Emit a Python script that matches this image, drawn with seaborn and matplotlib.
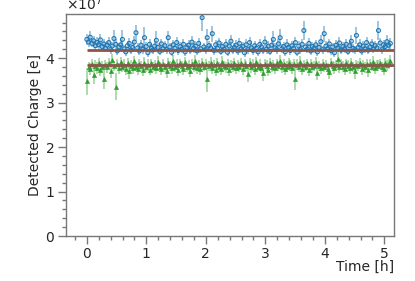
import numpy as np
import pandas as pd
import matplotlib
matplotlib.use("Agg")
import matplotlib.pyplot as plt
import matplotlib.ticker as mticker
import seaborn as sns

# detected charge in units of 1e7 e, one point every t_step hours
t_step = 0.0285
blue = [
    4.42, 4.36, 4.47, 4.33, 4.39, 4.28, 4.35, 4.30, 4.41, 4.26,
    4.32, 4.22, 4.29, 4.35, 4.19, 4.27, 4.44, 4.31, 4.16, 4.25,
    4.30, 4.42, 4.21, 4.14, 4.28, 4.33, 4.18, 4.24, 4.36, 4.57,
    4.23, 4.16, 4.29, 4.20, 4.46, 4.26, 4.12, 4.31, 4.22, 4.18,
    4.27, 4.40, 4.24, 4.15, 4.32, 4.21, 4.28, 4.19, 4.46, 4.25,
    4.13, 4.30, 4.22, 4.35, 4.17, 4.26, 4.20, 4.31, 4.14, 4.24,
    4.29, 4.18, 4.36, 4.22, 4.27, 4.16, 4.33, 4.21, 4.91, 4.25,
    4.19, 4.46, 4.28, 4.23, 4.55, 4.17, 4.30, 4.22, 4.34, 4.15,
    4.26, 4.20, 4.31, 4.13, 4.27, 4.38, 4.18, 4.24, 4.29, 4.16,
    4.33, 4.21, 4.26, 4.12, 4.30, 4.19, 4.35, 4.23, 4.17, 4.28,
    4.22, 4.14, 4.31, 4.25, 4.18, 4.36, 4.20, 4.27, 4.15, 4.29,
    4.42, 4.23, 4.19, 4.32, 4.46, 4.21, 4.26, 4.14, 4.30, 4.24,
    4.17, 4.28, 4.22, 4.35, 4.13, 4.27, 4.19, 4.31, 4.62, 4.25,
    4.20, 4.33, 4.16, 4.26, 4.22, 4.30, 4.14, 4.24, 4.37, 4.19,
    4.55, 4.27, 4.21, 4.32, 4.17, 4.25, 4.12, 4.29, 4.23, 4.34,
    4.18, 4.26, 4.21, 4.31, 4.15, 4.28, 4.38, 4.22, 4.19, 4.51,
    4.24, 4.30, 4.16, 4.27, 4.21, 4.35, 4.18, 4.25, 4.32, 4.20,
    4.28, 4.23, 4.62, 4.34, 4.19, 4.30, 4.26, 4.37, 4.29, 4.33,
]
blue_err = [
    0.12, 0.10, 0.14, 0.09, 0.11, 0.10, 0.12, 0.09, 0.13, 0.10,
    0.11, 0.09, 0.10, 0.12, 0.09, 0.10, 0.20, 0.11, 0.09, 0.10,
    0.11, 0.22, 0.09, 0.10, 0.11, 0.12, 0.09, 0.10, 0.13, 0.18,
    0.10, 0.09, 0.11, 0.10, 0.25, 0.10, 0.09, 0.12, 0.10, 0.09,
    0.11, 0.20, 0.10, 0.09, 0.12, 0.10, 0.11, 0.09, 0.16, 0.10,
    0.09, 0.11, 0.10, 0.13, 0.09, 0.10, 0.09, 0.11, 0.09, 0.10,
    0.12, 0.09, 0.14, 0.10, 0.11, 0.09, 0.12, 0.10, 0.30, 0.10,
    0.09, 0.20, 0.11, 0.10, 0.18, 0.09, 0.11, 0.10, 0.12, 0.09,
    0.10, 0.09, 0.11, 0.09, 0.10, 0.14, 0.09, 0.10, 0.11, 0.09,
    0.12, 0.10, 0.11, 0.09, 0.12, 0.09, 0.13, 0.10, 0.09, 0.11,
    0.10, 0.09, 0.12, 0.10, 0.09, 0.14, 0.10, 0.11, 0.09, 0.12,
    0.18, 0.10, 0.09, 0.12, 0.20, 0.10, 0.11, 0.09, 0.12, 0.10,
    0.09, 0.11, 0.10, 0.13, 0.09, 0.11, 0.09, 0.12, 0.22, 0.10,
    0.09, 0.12, 0.09, 0.10, 0.10, 0.11, 0.09, 0.10, 0.14, 0.09,
    0.18, 0.11, 0.10, 0.12, 0.09, 0.10, 0.09, 0.11, 0.10, 0.13,
    0.09, 0.11, 0.10, 0.12, 0.09, 0.11, 0.15, 0.10, 0.09, 0.20,
    0.10, 0.12, 0.09, 0.11, 0.10, 0.13, 0.09, 0.10, 0.12, 0.09,
    0.11, 0.10, 0.22, 0.12, 0.09, 0.11, 0.10, 0.14, 0.11, 0.12,
]
green = [
    3.48, 3.80, 3.76, 3.86, 3.62, 3.83, 3.78, 3.90, 3.74, 3.81,
    3.54, 3.85, 3.79, 3.88, 3.72, 3.95, 3.82, 3.36, 3.87, 3.77,
    3.91, 3.80, 3.84, 3.75, 3.89, 3.70, 3.83, 3.78, 3.93, 3.81,
    3.76, 3.87, 3.82, 3.73, 3.90, 3.79, 3.85, 3.74, 3.88, 3.80,
    3.84, 3.77, 3.92, 3.81, 3.75, 3.86, 3.79, 3.71, 3.89, 3.83,
    3.78, 3.94, 3.80, 3.85, 3.74, 3.88, 3.82, 3.76, 3.91, 3.79,
    3.83, 3.72, 3.87, 3.80, 3.93, 3.77, 3.84, 3.75, 3.89, 3.81,
    3.86, 3.54, 3.82, 3.90, 3.78, 3.85, 3.73, 3.88, 3.80, 3.76,
    3.92, 3.83, 3.79, 3.87, 3.74, 3.85, 3.81, 3.90, 3.77, 3.84,
    3.80, 3.88, 3.75, 3.86, 3.82, 3.65, 3.89, 3.79, 3.84, 3.76,
    3.91, 3.81, 3.85, 3.78, 3.67, 3.87, 3.83, 3.74, 3.90, 3.80,
    3.84, 3.77, 3.88, 3.82, 3.93, 3.79, 3.86, 3.75, 3.81, 3.89,
    3.83, 3.78, 3.87, 3.54, 3.85, 3.80, 3.92, 3.76, 3.84, 3.81,
    3.88, 3.74, 3.86, 3.79, 3.83, 3.90, 3.67, 3.82, 3.77, 3.87,
    3.80, 3.85, 3.76, 3.68, 3.89, 3.82, 3.78, 3.84, 3.98, 3.79,
    3.86, 3.81, 3.75, 3.88, 3.83, 3.77, 3.90, 3.80, 3.70, 3.85,
    3.82, 3.89, 3.76, 3.84, 3.79, 3.87, 3.73, 3.86, 3.81, 3.91,
    3.78, 3.85, 3.83, 3.88, 3.80, 3.76, 3.90, 3.84, 3.87, 3.93,
]
green_err = [
    0.30, 0.12, 0.14, 0.11, 0.20, 0.12, 0.13, 0.11, 0.15, 0.12,
    0.24, 0.11, 0.13, 0.12, 0.16, 0.14, 0.11, 0.30, 0.12, 0.13,
    0.12, 0.11, 0.13, 0.12, 0.11, 0.18, 0.12, 0.14, 0.12, 0.11,
    0.13, 0.12, 0.11, 0.14, 0.12, 0.11, 0.13, 0.12, 0.11, 0.12,
    0.12, 0.13, 0.12, 0.11, 0.14, 0.12, 0.11, 0.16, 0.12, 0.11,
    0.13, 0.12, 0.11, 0.12, 0.14, 0.11, 0.12, 0.13, 0.12, 0.11,
    0.12, 0.15, 0.11, 0.12, 0.13, 0.12, 0.11, 0.14, 0.12, 0.11,
    0.12, 0.30, 0.11, 0.12, 0.13, 0.11, 0.14, 0.12, 0.11, 0.13,
    0.12, 0.11, 0.13, 0.12, 0.14, 0.11, 0.12, 0.11, 0.13, 0.12,
    0.11, 0.12, 0.14, 0.11, 0.12, 0.18, 0.11, 0.12, 0.13, 0.14,
    0.12, 0.11, 0.13, 0.12, 0.18, 0.11, 0.12, 0.14, 0.11, 0.12,
    0.12, 0.13, 0.11, 0.12, 0.13, 0.12, 0.11, 0.14, 0.12, 0.11,
    0.12, 0.13, 0.11, 0.26, 0.12, 0.11, 0.13, 0.14, 0.12, 0.11,
    0.11, 0.14, 0.12, 0.13, 0.11, 0.12, 0.16, 0.12, 0.13, 0.11,
    0.12, 0.11, 0.13, 0.16, 0.11, 0.12, 0.13, 0.11, 0.15, 0.12,
    0.11, 0.12, 0.14, 0.11, 0.12, 0.13, 0.11, 0.12, 0.17, 0.11,
    0.12, 0.11, 0.14, 0.12, 0.13, 0.11, 0.15, 0.12, 0.11, 0.13,
    0.13, 0.11, 0.12, 0.11, 0.12, 0.14, 0.11, 0.12, 0.12, 0.13,
]
fit_blue = 4.19
fit_green = 3.85
fit_range = [0.0, 5.16]

scale = 1e7
time = np.arange(len(blue)) * t_step
df = pd.DataFrame({
    "time": time,
    "blue": np.array(blue) * scale, "blue_err": np.array(blue_err) * scale,
    "green": np.array(green) * scale, "green_err": np.array(green_err) * scale,
})

sns.set_style("ticks")
plt.rcParams["font.family"] = ["DejaVu Sans"]
fig = plt.figure(figsize=(4.15, 2.81), dpi=100)
ax = fig.add_axes([0.159, 0.160, 0.790, 0.790])

ax.errorbar(df["time"], df["blue"], yerr=df["blue_err"], fmt="none",
            ecolor="#1f77b4", alpha=0.5, elinewidth=1.2)
ax.errorbar(df["time"], df["green"], yerr=df["green_err"], fmt="none",
            ecolor="#2ca02c", alpha=0.45, elinewidth=1.2)
sns.scatterplot(data=df, x="time", y="blue", ax=ax, marker="o", s=8,
                facecolor="none", edgecolor="#1f77b4", linewidth=0.8)
sns.scatterplot(data=df, x="time", y="green", ax=ax, marker="^", s=9,
                color="#2ca02c", edgecolor="#2ca02c", linewidth=0.4)
ax.hlines([fit_blue * scale, fit_green * scale], fit_range[0], fit_range[1],
          colors="#8c564b", linewidth=2, zorder=5)

ax.set_xlim(-0.35, 5.16)
ax.set_ylim(0, 4.99e7)
ax.xaxis.set_major_locator(mticker.MultipleLocator(1))
ax.xaxis.set_minor_locator(mticker.MultipleLocator(0.2))
ax.yaxis.set_major_locator(mticker.MultipleLocator(1e7))
ax.yaxis.set_minor_locator(mticker.MultipleLocator(0.2e7))
fmt = mticker.ScalarFormatter(useMathText=True)
fmt.set_powerlimits((0, 0))
ax.yaxis.set_major_formatter(fmt)
ax.yaxis.get_offset_text().set_fontsize(10)

for s in ax.spines.values():
    s.set_color("#777777")
    s.set_linewidth(1.0)
ax.tick_params(which="major", length=6, width=1, color="#777777",
               labelsize=10, pad=2)
ax.tick_params(which="minor", length=3, width=1, color="#777777")

ax.set_xlabel("Time [h]", fontsize=10, loc="right", labelpad=-1)
ax.set_ylabel("Detected Charge [e]", fontsize=10, labelpad=2)

fig.savefig("out.png", dpi=100)
